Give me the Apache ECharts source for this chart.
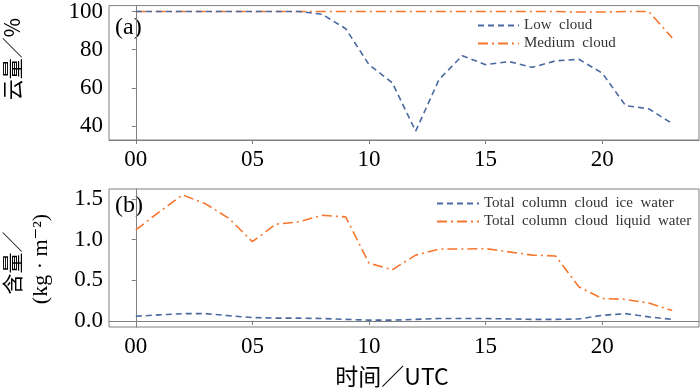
<!DOCTYPE html>
<html>
<head>
<meta charset="utf-8">
<script src="https://cdn.jsdelivr.net/npm/echarts@6/dist/echarts.min.js"></script>
<style>html,body{margin:0;padding:0;background:#fff}#c{width:700px;height:390px}</style>
</head>
<body>
<div id="c"></div>
<script>
var hours = [0,1,2,3,4,5,6,7,8,9,10,11,12,13,14,15,16,17,18,19,20,21,22,23];
var lowCloud = [100,100,100,100,100,100,100,100,98.5,91,72.2,62.7,37.4,64.4,76.9,72.2,73.8,70.8,74.2,75.0,67.8,50.8,49.1,41.4];
var mediumCloud = [100,100,100,100,100,100,100,100,100,100,100,100,100,100,100,100,100,100,100,99.7,99.7,100,100,86.2];
var iceWater = [0.058,0.075,0.09,0.09,0.065,0.042,0.035,0.035,0.03,0.02,0.01,0.01,0.02,0.03,0.03,0.03,0.025,0.02,0.02,0.025,0.07,0.09,0.05,0.02];
var liquidWater = [1.12,1.34,1.55,1.44,1.26,0.975,1.19,1.22,1.30,1.28,0.71,0.63,0.81,0.885,0.885,0.89,0.85,0.81,0.80,0.42,0.276,0.265,0.22,0.13];
var xTicks = [0,5,10,15,20];
var xTickLabels = ['00','05','10','15','20'];
var yTicksTop = [40,60,80,100];
var yTicksBottom = [0,0.5,1.0,1.5];

var BLUE = '#4a69a0', ORANGE = '#f5772f';
var SERIF = "'Liberation Serif', 'DejaVu Serif', serif";
var CJK = "'Noto Sans CJK SC'";
var AX = '#808080';

function pairs(xs, ys){ return xs.map(function(x,i){return [x, ys[i]];}); }
var richTick = {s:{fontFamily:SERIF, fontSize:23, color:'#000'}};

function xAxis(gi){
  return {
    type:'value', gridIndex:gi, min:-1.15, max:24.15,
    axisLine:{show:true, lineStyle:{color:AX, width:1}},
    axisTick:{show:true, length:4, customValues:xTicks, lineStyle:{color:AX}},
    axisLabel:{customValues:xTicks, margin:8, color:'#000', fontFamily:SERIF, fontSize:23, rich:richTick,
      formatter:function(v){ var i = xTicks.indexOf(v); return i>=0 ? '{s|'+xTickLabels[i]+'}' : ''; }},
    splitLine:{show:false}
  };
}
function yAxis(gi, min, max, ticks, fmt){
  return {
    type:'value', gridIndex:gi, min:min, max:max,
    axisLine:{show:true, lineStyle:{color:AX, width:1}},
    axisTick:{show:true, length:4, customValues:ticks, lineStyle:{color:AX}},
    axisLabel:{customValues:ticks, margin:6, color:'#000', fontFamily:SERIF, fontSize:23, rich:richTick,
      formatter:function(v){ return '{s|'+fmt(v)+'}'; }},
    splitLine:{show:false}
  };
}
function legendFmt(n){ return n.replace(/ /g, '\u2002'); }

var chart = echarts.init(document.getElementById('c'), null, {renderer:'canvas'});
chart.setOption({
  animation:false,
  backgroundColor:'#fff',
  textStyle:{fontFamily:SERIF},
  grid:[
    {left:109, top:3, width:590, height:137, show:true, borderColor:AX, borderWidth:1, backgroundColor:'transparent'},
    {left:109, top:189, width:590, height:138, show:true, borderColor:AX, borderWidth:1, backgroundColor:'transparent'}
  ],
  xAxis:[xAxis(0), xAxis(1)],
  yAxis:[
    yAxis(0, 32.8, 103.1, yTicksTop, function(v){return String(v);}),
    yAxis(1, -0.074, 1.623, yTicksBottom, function(v){return v.toFixed(1);})
  ],
  legend:[
    {orient:'vertical', left:477, top:18, padding:0, itemWidth:41, itemHeight:14, itemGap:3,
     itemStyle:{opacity:0},
     data:['Low cloud','Medium cloud'], formatter:legendFmt,
     textStyle:{fontFamily:SERIF, fontSize:15, color:'#333'}},
    {orient:'vertical', left:436, top:196, padding:0, itemWidth:42, itemHeight:14, itemGap:3,
     itemStyle:{opacity:0},
     data:['Total column cloud ice water','Total column cloud liquid water'], formatter:legendFmt,
     textStyle:{fontFamily:SERIF, fontSize:15, color:'#333'}}
  ],
  series:[
    {name:'Low cloud', type:'line', xAxisIndex:0, yAxisIndex:0, data:pairs(hours, lowCloud), symbol:'none',
     lineStyle:{color:BLUE, width:1.6, type:[6,4]}, itemStyle:{color:BLUE}, z:3},
    {name:'Medium cloud', type:'line', xAxisIndex:0, yAxisIndex:0, data:pairs(hours, mediumCloud), symbol:'none',
     lineStyle:{color:ORANGE, width:1.6, type:[10,4,2,4]}, itemStyle:{color:ORANGE}, z:2},
    {name:'Total column cloud ice water', type:'line', xAxisIndex:1, yAxisIndex:1, data:pairs(hours, iceWater), symbol:'none',
     lineStyle:{color:BLUE, width:1.6, type:[6,4]}, itemStyle:{color:BLUE}},
    {name:'Total column cloud liquid water', type:'line', xAxisIndex:1, yAxisIndex:1, data:pairs(hours, liquidWater), symbol:'none',
     lineStyle:{color:ORANGE, width:1.6, type:[10,4,2,4]}, itemStyle:{color:ORANGE}}
  ],
  graphic:[
    {type:'text', x:12, y:59, rotation:Math.PI/2, style:{text:'云量／%', font:'21px '+CJK, fill:'#000', textAlign:'center', textVerticalAlign:'middle'}},
    {type:'text', x:12, y:263, rotation:Math.PI/2, style:{text:'含量／', font:'21px '+CJK, fill:'#000', textAlign:'center', textVerticalAlign:'middle'}},
    {type:'text', x:41, y:259, rotation:Math.PI/2, style:{text:'(kg · m⁻²)', font:'22px '+SERIF, fill:'#000', textAlign:'center', textVerticalAlign:'middle'}},
    {type:'text', x:392, y:376, style:{text:'时间／UTC', font:'23px '+CJK, fill:'#000', textAlign:'center', textVerticalAlign:'middle'}},
    {type:'text', x:115, y:28, style:{text:'(a)', font:'24px '+SERIF, fill:'#000', textAlign:'left', textVerticalAlign:'middle'}},
    {type:'text', x:115, y:206, style:{text:'(b)', font:'24px '+SERIF, fill:'#000', textAlign:'left', textVerticalAlign:'middle'}}
  ]
});
</script>
</body>
</html>
